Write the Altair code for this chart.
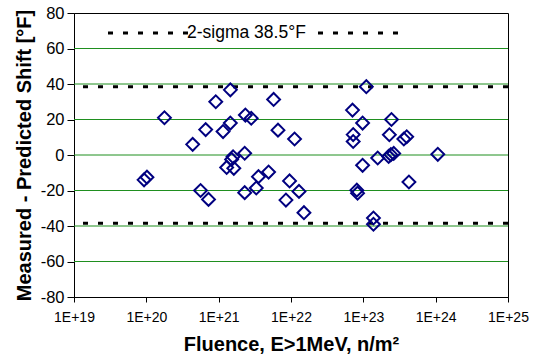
import altair as alt
import pandas as pd

# Fluence (E > 1 MeV, n/m^2) and measured-minus-predicted shift (°F)
fluence = [
    9.3e19, 1.02e20, 1.78e20, 4.37e20, 5.62e20, 6.61e20, 7.24e20, 9.12e20,
    1.15e21, 1.29e21, 1.45e21, 1.45e21, 1.51e21, 1.58e21, 1.62e21, 2.29e21,
    2.34e21, 2.82e21, 2.29e21, 3.31e21, 3.55e21, 4.90e21, 5.75e21, 6.61e21,
    8.51e21, 9.55e21, 1.12e22, 1.29e22, 1.51e22, 7.08e22, 7.24e22, 7.24e22,
    8.13e22, 8.32e22, 9.77e22, 9.77e22, 1.10e23, 1.38e23, 1.38e23, 1.58e23,
    2.29e23, 2.45e23, 2.24e23, 2.40e23, 2.63e23, 3.63e23, 3.98e23, 4.27e23,
    1.07e24,
]
shift = [
    -14.0, -12.5, 21.0, 6.0, -20.0, 14.3, -25.0, 30.0,
    13.2, -7.0, 18.0, 36.7, -2.5, -1.0, -7.5, 1.0,
    22.5, 20.7, -21.2, -18.6, -12.2, -9.6, 31.3, 14.0,
    -25.4, -14.6, 9.0, -20.5, -32.5, 25.3, 11.5, 7.6,
    -19.8, -21.5, 18.0, -5.8, 38.5, -35.5, -39.0, -1.7,
    11.4, 20.0, -0.8, 0.2, 0.9, 9.0, 10.3, -15.2,
    0.4,
]

grid_levels = [-60, -40, -20, 0, 20, 40, 60]
sigma_levels = [38.5, -38.5]
legend_label = "2-sigma 38.5°F"

x_ticks = [1e19, 1e20, 1e21, 1e22, 1e23, 1e24, 1e25]
x_tick_labels = ["1E+19", "1E+20", "1E+21", "1E+22", "1E+23", "1E+24", "1E+25"]
y_ticks = [-80, -60, -40, -20, 0, 20, 40, 60, 80]

FONT = "Liberation Sans"
W, H = 434, 284

x_scale = alt.Scale(type="log", domain=[x_ticks[0], x_ticks[-1]], nice=False)
y_scale = alt.Scale(domain=[y_ticks[0], y_ticks[-1]], nice=False, zero=False)

label_list = "[" + ",".join(f"'{s}'" for s in x_tick_labels) + "]"
x_label_expr = f"{label_list}[round(log(datum.value) / LN10) - 19]"

x_axis = alt.Axis(
    values=x_ticks, labelExpr=x_label_expr, grid=False,
    labelFont=FONT, labelFontSize=14, labelColor="black", labelPadding=8,
    labelFlush=False, labelOverlap=False,
    tickColor="black", tickSize=5, domainColor="black",
    title="Fluence, E>1MeV, n/m²", titleFont=FONT, titleFontSize=20,
    titleFontWeight="bold", titleColor="black",
    titleY=53, titleBaseline="alphabetic",
)
y_axis = alt.Axis(
    values=y_ticks, labelExpr="datum.value + ''", grid=False,
    labelFont=FONT, labelFontSize=16.5, labelColor="black", labelPadding=3,
    labelOverlap=False,
    tickColor="black", tickSize=7, domainColor="black",
    title="Measured - Predicted Shift [°F]", titleFont=FONT, titleFontSize=20,
    titleFontWeight="bold", titleColor="black",
    titleX=-44, titleBaseline="alphabetic",
)

points_df = pd.DataFrame({"fluence": fluence, "shift": shift})

# horizontal green gridlines
grid = alt.Chart(pd.DataFrame({"level": grid_levels})).mark_rule(
    color="#1f8f1f", strokeWidth=1
).encode(y=alt.Y("level:Q", scale=y_scale, axis=y_axis))

# +/- 2-sigma band limits
sigma = alt.Chart(pd.DataFrame({"level": sigma_levels})).mark_rule(
    color="black", strokeWidth=3, strokeDash=[5, 10]
).encode(y=alt.Y("level:Q", scale=y_scale, axis=y_axis))

points = alt.Chart(points_df).mark_point(
    shape="diamond", filled=False, color="#000080", size=165,
    strokeWidth=2, opacity=1
).encode(
    x=alt.X("fluence:Q", scale=x_scale, axis=x_axis),
    y=alt.Y("shift:Q", scale=y_scale, axis=y_axis),
)

# legend entry: dashed sample on both sides of the label
one = pd.DataFrame({"t": [legend_label]})
key_left = alt.Chart(one).mark_rule(
    color="black", strokeWidth=3, strokeDash=[5, 10]
).encode(x=alt.value(34), x2=alt.value(114), y=alt.value(20))
key_right = alt.Chart(one).mark_rule(
    color="black", strokeWidth=3, strokeDash=[5, 10]
).encode(x=alt.value(244), x2=alt.value(324), y=alt.value(20))
key_text = alt.Chart(one).mark_text(
    align="left", baseline="middle", font=FONT, fontSize=17.5, color="black"
).encode(x=alt.value(113), y=alt.value(20), text="t:N")

chart = alt.layer(grid, sigma, points, key_left, key_right, key_text).properties(
    width=W, height=H,
    padding={"left": 74, "top": 13, "right": 26, "bottom": 63},
    autosize=alt.AutoSizeParams(type="none"),
    background="white",
).configure_view(stroke="black", strokeWidth=1)

chart.save("out.html", embed_options={"renderer": "svg", "actions": False})
